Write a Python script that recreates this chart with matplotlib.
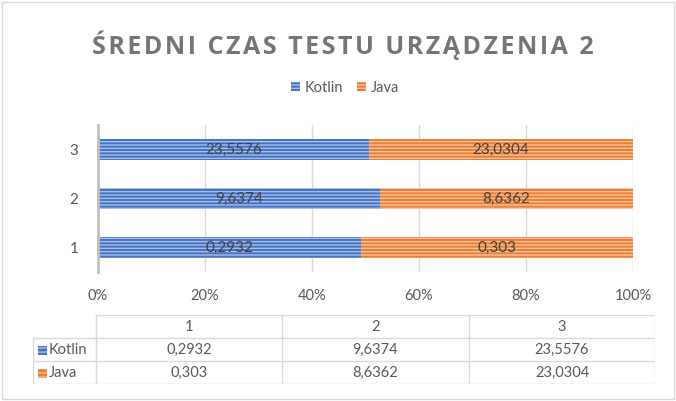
import matplotlib
matplotlib.use("Agg")
import matplotlib.pyplot as plt
from matplotlib.patches import Patch, Rectangle
import numpy as np

# data
categories = ["1", "2", "3"]
kotlin = [0.2932, 9.6374, 23.5576]
java = [0.303, 8.6362, 23.0304]
kotlin_lbl = ["0,2932", "9,6374", "23,5576"]
java_lbl = ["0,303", "8,6362", "23,0304"]
series_names = ["Kotlin", "Java"]
pct_ticks = ["0%", "20%", "40%", "60%", "80%", "100%"]

blue = "#4472C4"
blue_h = "#a9c0e8"
orange = "#ED7D31"
orange_h = "#f7c3a0"
txt = "#595959"

plt.rcParams["font.family"] = ["Lato", "DejaVu Sans"]
plt.rcParams["hatch.linewidth"] = 1.0

W, H = 676, 401
fig = plt.figure(figsize=(W / 100, H / 100), dpi=100)

def px(x0, y0, x1, y1):
    return [x0 / W, 1 - y1 / H, (x1 - x0) / W, (y1 - y0) / H]

ax = fig.add_axes(px(98, 125, 633, 272))

k = np.array(kotlin)
j = np.array(java)
tot = k + j
kp = k / tot
jp = j / tot
y = np.arange(1, len(categories) + 1)

ax.barh(y, kp, height=0.41, color=blue, edgecolor=blue_h, linewidth=0, hatch="-----", zorder=3)
ax.barh(y, jp, left=kp, height=0.41, color=orange, edgecolor=orange_h, linewidth=0, hatch="-----", zorder=3)

for i in range(len(categories)):
    ax.text(kp[i] / 2, y[i], kotlin_lbl[i], ha="center", va="center", fontsize=11, color="#404040", zorder=4)
    ax.text(kp[i] + jp[i] / 2, y[i], java_lbl[i], ha="center", va="center", fontsize=11, color="#404040", zorder=4)

ax.set_xlim(0, 1)
ax.set_ylim(0.5, 3.5)
ax.set_xticks(np.linspace(0, 1, 6))
ax.set_xticklabels(pct_ticks)
ax.set_yticks(y)
ax.set_yticklabels(categories)
ax.tick_params(axis="x", length=0, pad=12, labelsize=10.5, labelcolor=txt)
ax.tick_params(axis="y", length=0, pad=14, labelsize=11, labelcolor=txt)
ax.grid(axis="x", color="#d9d9d9", linewidth=1, zorder=0)
for s in ["top", "right", "bottom"]:
    ax.spines[s].set_visible(False)
ax.spines["left"].set_color("#bfbfbf")
ax.spines["left"].set_linewidth(2)
ax.spines["left"].set_zorder(5)

# title with letter spacing
title = "ŚREDNI CZAS TESTU URZĄDZENIA 2"
spaced = "\u200a".join(title)
fig.text(343 / W, 1 - 45 / H, spaced, ha="center", va="center", fontsize=18,
         color="#757575", fontweight="bold", family=["Open Sans", "DejaVu Sans"])

handles = [Patch(facecolor=blue, edgecolor=blue_h, linewidth=0, hatch="-----"),
           Patch(facecolor=orange, edgecolor=orange_h, linewidth=0, hatch="-----")]
fig.legend(handles, series_names, loc="center", bbox_to_anchor=(345 / W, 1 - 88 / H), ncol=2,
           frameon=False, fontsize=10.5, labelcolor=txt, handlelength=0.6, handleheight=0.6,
           handletextpad=0.3, columnspacing=1.0)

# data table
tax = fig.add_axes(px(33, 315, 655, 384))
tax.set_xlim(33, 655)
tax.set_ylim(384, 315)
tax.axis("off")
col_x = [96, 282, 469, 655]
row_y = [315, 338, 361, 384]
lc = "#d9d9d9"
tax.plot([96, 655], [315, 315], color=lc, lw=1)
for ry in row_y[1:]:
    tax.plot([33, 655], [ry, ry], color=lc, lw=1)
tax.plot([33, 33], [338, 384], color=lc, lw=1)
for cx in col_x:
    tax.plot([cx, cx], [315, 384], color=lc, lw=1)
for c in range(3):
    cx = (col_x[c] + col_x[c + 1]) / 2
    tax.text(cx, 327, categories[c], ha="center", va="center", fontsize=10.5, color=txt)
    tax.text(cx, 350, kotlin_lbl[c], ha="center", va="center", fontsize=10.5, color=txt)
    tax.text(cx, 373, java_lbl[c], ha="center", va="center", fontsize=10.5, color=txt)
for r, (name, fc, hc) in enumerate(zip(series_names, [blue, orange], [blue_h, orange_h])):
    yy = 350 + 23 * r
    tax.add_patch(Rectangle((38, yy - 4.5), 9, 9, facecolor=fc, edgecolor=hc, linewidth=0, hatch="----"))
    tax.text(49, yy, name, ha="left", va="center", fontsize=10.5, color=txt)

# outer chart border
fig.patches.append(Rectangle((2 / W, 2 / H), 1 - 4 / W, 1 - 4 / H, transform=fig.transFigure,
                             fill=False, edgecolor="#d9d9d9", linewidth=1))

fig.savefig("out.png", dpi=100, facecolor="white")
